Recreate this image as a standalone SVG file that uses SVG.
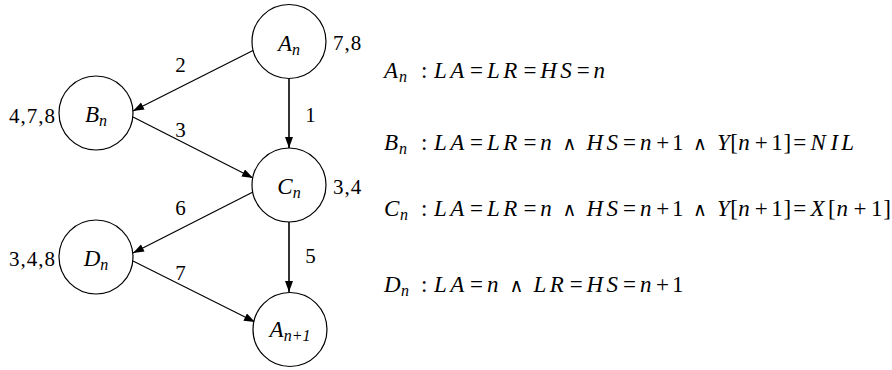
<svg xmlns="http://www.w3.org/2000/svg" width="892" height="370" viewBox="0 0 892 370">
  <style>
    text { font-family: "Liberation Serif", "DejaVu Serif", serif; fill: #000000; }
    .node circle { fill: #ffffff; stroke: #000000; stroke-width: 1.2; }
    .num { font-size: 21px; letter-spacing: 1px; }
    .name, .pred { font-size: 23px; }
    .sub { font-size: 16px; font-style: italic; }
    .it { font-style: italic; }
    .op { font-family: "DejaVu Sans", sans-serif; font-size: 19px; }
    .edge { stroke: #000000; stroke-width: 1.2; fill: none; marker-end: url(#arrow); }
    .edge.v { stroke-width: 1.6; }
  </style>
  <defs>
    <marker id="arrow" markerUnits="userSpaceOnUse" markerWidth="12" markerHeight="10" refX="11" refY="4" orient="auto">
      <path d="M0,0 L11,4 L0,8 Z" fill="#000000"/>
    </marker>
  </defs>

  <rect width="892" height="370" fill="#ffffff"/>

  <!-- connectors -->
  <g id="edges">
    <line class="edge v" x1="289" y1="79" x2="289" y2="148"/>
    <line class="edge" x1="254" y1="50" x2="133" y2="111"/>
    <line class="edge" x1="133" y1="117" x2="253" y2="178"/>
    <line class="edge" x1="253" y1="192" x2="133" y2="253"/>
    <line class="edge v" x1="289" y1="222" x2="289" y2="292"/>
    <line class="edge" x1="133" y1="261" x2="255" y2="322"/>
    <text class="num" x="311" y="122" text-anchor="middle">1</text>
    <text class="num" x="181" y="72" text-anchor="middle">2</text>
    <text class="num" x="181" y="137" text-anchor="middle">3</text>
    <text class="num" x="311" y="263" text-anchor="middle">5</text>
    <text class="num" x="181" y="215" text-anchor="middle">6</text>
    <text class="num" x="181" y="280" text-anchor="middle">7</text>
  </g>

  <!-- states -->
  <g id="node-An" class="node">
    <circle cx="289" cy="41.5" r="37"/>
    <text class="name" x="289" y="51" text-anchor="middle"><tspan class="it">A</tspan><tspan class="sub" dy="3.5">n</tspan></text>
    <text class="num" x="333" y="50">7,8</text>
  </g>
  <g id="node-Bn" class="node">
    <circle cx="96" cy="113" r="37"/>
    <text class="name" x="96" y="122" text-anchor="middle"><tspan class="it">B</tspan><tspan class="sub" dy="3.5">n</tspan></text>
    <text class="num" x="56" y="123" text-anchor="end">4,7,8</text>
  </g>
  <g id="node-Cn" class="node">
    <circle cx="289" cy="185" r="37"/>
    <text class="name" x="289" y="194" text-anchor="middle"><tspan class="it">C</tspan><tspan class="sub" dy="3.5">n</tspan></text>
    <text class="num" x="333" y="194">3,4</text>
  </g>
  <g id="node-Dn" class="node">
    <circle cx="96" cy="257" r="37"/>
    <text class="name" x="96" y="266" text-anchor="middle"><tspan class="it">D</tspan><tspan class="sub" dy="3.5">n</tspan></text>
    <text class="num" x="56" y="266" text-anchor="end">3,4,8</text>
  </g>
  <g id="node-An1" class="node">
    <circle cx="290" cy="329.5" r="37"/>
    <text class="name" x="290" y="337" text-anchor="middle"><tspan class="it">A</tspan><tspan class="sub" dy="3.5">n+1</tspan></text>
  </g>

  <!-- state predicates -->
  <g id="legend">
    <text class="pred" y="78"><tspan class="it" x="384">A</tspan><tspan class="sub" x="399" y="81.5">n</tspan><tspan x="421" y="78">:</tspan><tspan class="it" x="434 450.3">LA</tspan><tspan x="470.1">=</tspan><tspan class="it" x="487 503.3">LR</tspan><tspan x="523.4">=</tspan><tspan class="it" x="540.2 560.2">HS</tspan><tspan x="576.7">=</tspan><tspan class="it" x="593.5">n</tspan></text>

    <text class="pred" y="150"><tspan class="it" x="384">B</tspan><tspan class="sub" x="399" y="153.5">n</tspan><tspan x="421" y="150">:</tspan><tspan class="it" x="434 450.3">LA</tspan><tspan x="470.1">=</tspan><tspan class="it" x="487 503.3">LR</tspan><tspan x="523.4">=</tspan><tspan class="it" x="540.2">n</tspan><tspan class="op" x="562.6">∧</tspan><tspan class="it" x="586.6 606.5">HS</tspan><tspan x="623.1">=</tspan><tspan class="it" x="640">n</tspan><tspan x="656.2 672">+1</tspan><tspan class="op" x="693">∧</tspan><tspan class="it" x="717">Y</tspan><tspan x="730.3">[</tspan><tspan class="it" x="738.2">n</tspan><tspan x="754.8 771.2 783.5 793.2">+1]=</tspan><tspan class="it" x="810.6 830.4 841.3">NIL</tspan></text>

    <text class="pred" y="216"><tspan class="it" x="384">C</tspan><tspan class="sub" x="400" y="219.5">n</tspan><tspan x="421" y="216">:</tspan><tspan class="it" x="434 450.3">LA</tspan><tspan x="470.1">=</tspan><tspan class="it" x="487 503.3">LR</tspan><tspan x="523.4">=</tspan><tspan class="it" x="540.2">n</tspan><tspan class="op" x="562.6">∧</tspan><tspan class="it" x="586.6 606.5">HS</tspan><tspan x="623.1">=</tspan><tspan class="it" x="640">n</tspan><tspan x="656.2 672">+1</tspan><tspan class="op" x="693">∧</tspan><tspan class="it" x="717">Y</tspan><tspan x="730.3">[</tspan><tspan class="it" x="738.2">n</tspan><tspan x="754.8 771.2 783.5 793.2">+1]=</tspan><tspan class="it" x="810.6">X</tspan><tspan x="828">[</tspan><tspan class="it" x="836.5">n</tspan><tspan x="853.5 870.9 883.2">+1]</tspan></text>

    <text class="pred" y="292"><tspan class="it" x="384">D</tspan><tspan class="sub" x="401" y="295.5">n</tspan><tspan x="421" y="292">:</tspan><tspan class="it" x="434 450.3">LA</tspan><tspan x="470.1">=</tspan><tspan class="it" x="487">n</tspan><tspan class="op" x="509.4">∧</tspan><tspan class="it" x="533.4 549.7">LR</tspan><tspan x="569.7">=</tspan><tspan class="it" x="586.6 606.5">HS</tspan><tspan x="623">=</tspan><tspan class="it" x="639.9">n</tspan><tspan x="656.1 672">+1</tspan></text>
  </g>
</svg>
